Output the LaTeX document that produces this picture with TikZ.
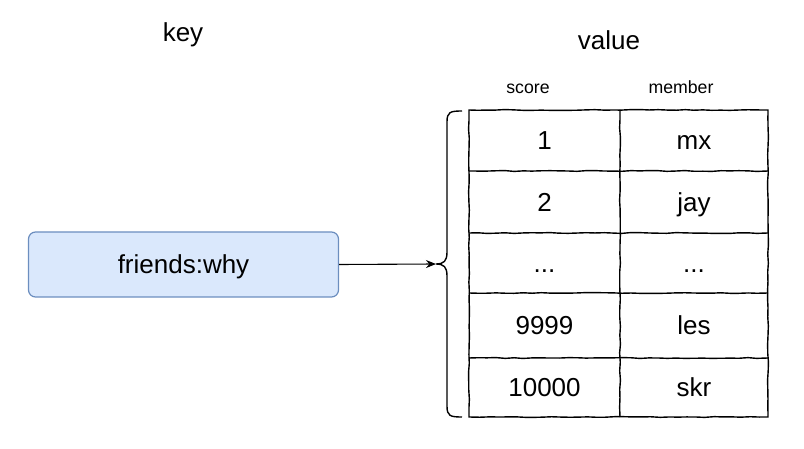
\documentclass[tikz,border=0pt]{standalone}
\usepackage{fontspec}
\setmainfont{Liberation Sans}
\usetikzlibrary{decorations.pathmorphing,arrows.meta}
\definecolor{boxfill}{HTML}{DAE8FC}
\definecolor{boxline}{HTML}{6C8EBF}
\begin{document}
\begin{tikzpicture}[x=1pt,y=-1pt,
  sketch/.style={decorate,decoration={random steps,segment length=9pt,amplitude=0.45pt}},
  bigtext/.style={font=\fontsize{26}{30}\selectfont,text height=18.6pt,text depth=0pt,inner sep=0pt},
  smalltext/.style={font=\fontsize{17.7}{20}\selectfont,text height=12.7pt,text depth=0pt,inner sep=0pt},
  gridline/.style={sketch,line width=1.4pt,black},
  keybox/.style={bigtext,fill=boxfill,draw=boxline,line width=1.2pt,rounded corners=7pt,
    minimum width=310pt,minimum height=65pt}]
\useasboundingbox (0,0) rectangle (804,449);

% labels
\node[bigtext] (keylabel) at (183,32) {key};
\node[bigtext] (valuelabel) at (609,40) {value};
\node[smalltext] (scorelabel) at (528,87) {score};
\node[smalltext] (memberlabel) at (681,87) {member};

% key box
\node[keybox] (key) at (183.5,264.5) {friends:why};

% table grid
\draw[gridline] (469,110) -- (768,110) -- (768,417) -- (469,417) -- cycle;
\draw[gridline] (620,110) -- (620,417);
\draw[gridline] (469,171) -- (768,171);
\draw[gridline] (469,233) -- (768,233);
\draw[gridline] (469,293) -- (768,293);
\draw[gridline] (469,358) -- (768,358);

% cell texts
\node[bigtext] (s1) at (544.5,140.5) {1};
\node[bigtext] (m1) at (694,140.5) {mx};
\node[bigtext] (s2) at (544.5,202) {2};
\node[bigtext] (m2) at (694,202) {jay};
\node[bigtext] (s3) at (544.5,263) {...};
\node[bigtext] (m3) at (694,263) {...};
\node[bigtext] (s4) at (544.5,325.5) {9999};
\node[bigtext] (m4) at (694,325.5) {les};
\node[bigtext] (s5) at (544.5,387.5) {10000};
\node[bigtext] (m5) at (694,387.5) {skr};

% brace
\coordinate (bracetip) at (436,264);
\draw[line width=1.4pt] (462,111) .. controls (450,111) and (447,112) .. (447,122)
  -- (447,252) .. controls (447,261) and (444,264) .. (bracetip)
  .. controls (444,264) and (447,267) .. (447,276)
  -- (447,406) .. controls (447,416) and (450,417) .. (462,417);

% arrow
\draw[line width=1.1pt,-{Stealth[length=10pt,width=8pt]}] (key.east) -- (bracetip);
\end{tikzpicture}
\end{document}
